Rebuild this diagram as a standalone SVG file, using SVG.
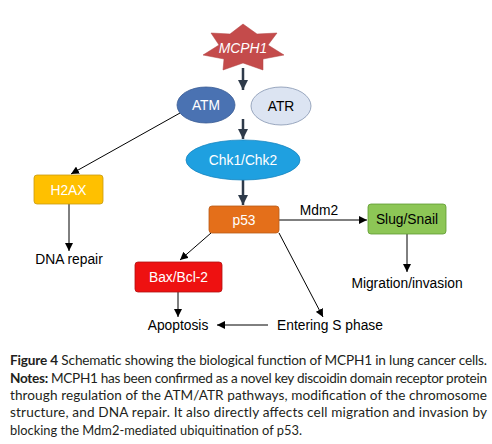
<svg xmlns="http://www.w3.org/2000/svg" width="492" height="444" viewBox="0 0 492 444">
<defs>
<marker id="ah" viewBox="0 0 10 10" refX="10" refY="5" markerWidth="8" markerHeight="8" markerUnits="userSpaceOnUse" orient="auto"><path d="M0,0L10,5L0,10z" fill="#000"/></marker>
<marker id="ahd" viewBox="0 0 10 10" refX="10" refY="5" markerWidth="4" markerHeight="4" orient="auto"><path d="M0,0L10,5L0,10z" fill="#2E3A4A"/></marker>
<style>
.lbl{font-family:"Liberation Sans",Arial,sans-serif;font-size:13.8px;text-anchor:middle}
.w{fill:#fff}
.k{fill:#000}
.c{stroke:#000;stroke-width:1;fill:none;marker-end:url(#ah)}
.d{stroke:#2E3A4A;stroke-width:2.5;fill:none;marker-end:url(#ahd)}
.cap{font-family:"Lato","Open Sans",sans-serif;font-size:13.6px;fill:#231F20}
</style>
</defs>
<rect width="492" height="444" fill="#fff"/>
<g id="connectors">
<line class="d" x1="243" y1="68" x2="243" y2="90"/>
<line class="d" x1="243" y1="119" x2="243" y2="139"/>
<line class="d" x1="243" y1="180" x2="243" y2="205"/>
<line class="c" x1="180" y1="113" x2="71" y2="174"/>
<line class="c" x1="69" y1="204" x2="69" y2="251"/>
<line class="c" x1="211" y1="233" x2="180" y2="260"/>
<line class="c" x1="178" y1="292" x2="178" y2="317"/>
<line class="c" x1="279" y1="233" x2="323" y2="317"/>
<line class="c" x1="268" y1="325" x2="217" y2="325"/>
<line class="c" x1="279" y1="220" x2="367" y2="220"/>
<line class="c" x1="407" y1="234" x2="407" y2="272"/>
<text class="lbl k" x="319" y="215">Mdm2</text>
</g>
<g id="mcph1">
<polygon points="243,24 257,34 277,33 268,45 284,55 263,59 263,70 243,63 223,70 224,59 203,55 219,45 211,33 230,34" fill="#C44B4B" stroke="#B04040" stroke-width="0.5"/>
<text class="lbl w" x="243" y="53" style="font-style:italic">MCPH1</text>
</g>
<g id="atm">
<ellipse cx="206" cy="105" rx="29" ry="18" fill="#4A72B2" stroke="#3C5E96" stroke-width="0.8"/>
<text class="lbl w" x="206" y="110">ATM</text>
</g>
<g id="atr">
<ellipse cx="281" cy="106" rx="30" ry="19" fill="#DCE4F2" stroke="#8494B0" stroke-width="0.8"/>
<text class="lbl k" x="281" y="111">ATR</text>
</g>
<g id="chk">
<ellipse cx="243" cy="160" rx="57" ry="20" fill="#1FA0E0" stroke="#1A86C0" stroke-width="0.8"/>
<text class="lbl w" x="243" y="165">Chk1/Chk2</text>
</g>
<g id="h2ax">
<rect x="34" y="175" width="69" height="29" rx="3" fill="#FFC000" stroke="#C89A10" stroke-width="0.8"/>
<text class="lbl w" x="68.5" y="194.5">H2AX</text>
</g>
<g id="dna-repair"><text class="lbl k" x="69" y="264">DNA repair</text></g>
<g id="p53">
<rect x="209" y="206" width="70" height="27" rx="3" fill="#E46F1A" stroke="#B85A18" stroke-width="0.8"/>
<text class="lbl w" x="244" y="224.5">p53</text>
</g>
<g id="slug">
<rect x="368" y="204" width="78" height="30" rx="3" fill="#8DC656" stroke="#5E9A30" stroke-width="0.8"/>
<text class="lbl k" x="407" y="224">Slug/Snail</text>
</g>
<g id="migration"><text class="lbl k" x="407" y="288">Migration/invasion</text></g>
<g id="bax">
<rect x="135" y="262" width="87" height="30" rx="3" fill="#EE1111" stroke="#B01010" stroke-width="0.8"/>
<text class="lbl w" x="178.5" y="282">Bax/Bcl-2</text>
</g>
<g id="apoptosis"><text class="lbl k" x="178" y="330">Apoptosis</text></g>
<g id="sphase"><text class="lbl k" x="330" y="330">Entering S phase</text></g>
<g id="caption">
<text class="cap" x="10" y="365" textLength="477" lengthAdjust="spacing"><tspan font-weight="bold">Figure 4</tspan> Schematic showing the biological function of MCPH1 in lung cancer cells.</text>
<text class="cap" x="10" y="382.5" textLength="477" lengthAdjust="spacing"><tspan font-weight="bold">Notes:</tspan> MCPH1 has been confirmed as a novel key discoidin domain receptor protein</text>
<text class="cap" x="10" y="400" textLength="477" lengthAdjust="spacing">through regulation of the ATM/ATR pathways, modification of the chromosome</text>
<text class="cap" x="10" y="417" textLength="477" lengthAdjust="spacing">structure, and DNA repair. It also directly affects cell migration and invasion by</text>
<text class="cap" x="10" y="434.5" textLength="292" lengthAdjust="spacingAndGlyphs">blocking the Mdm2-mediated ubiquitination of p53.</text>
</g>
</svg>
